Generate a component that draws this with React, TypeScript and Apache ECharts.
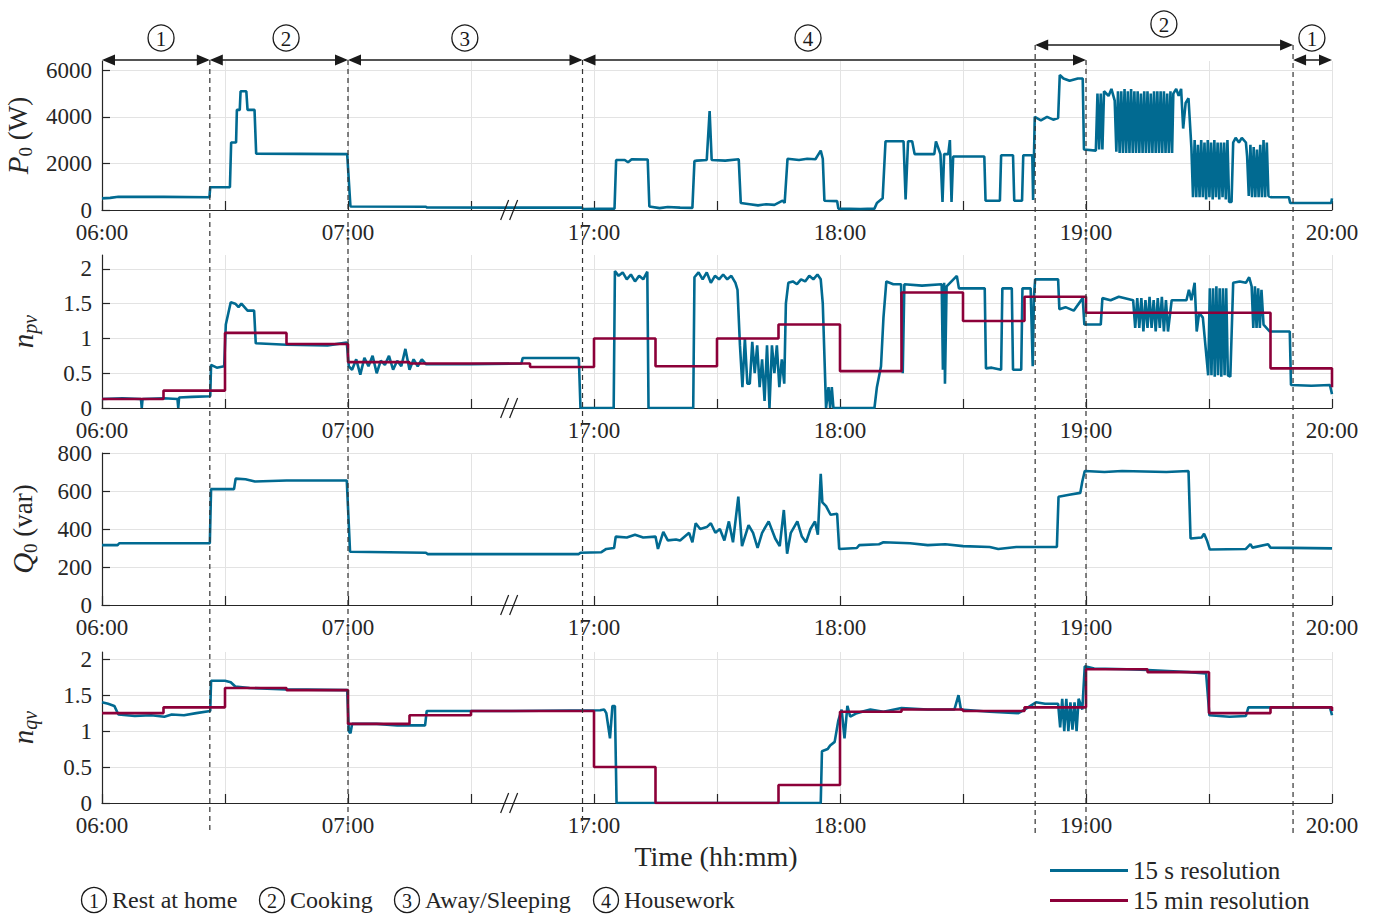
import React, { useEffect, useRef } from 'react';
import * as echarts from 'echarts';

const FONT = "'Liberation Serif', 'DejaVu Serif', serif";
const BLUE = '#016a91';
const RED = '#8c0039';
const INK = '#262626';
const GRIDC = '#e3e3e3';

// x: minutes on the broken time axis (0 = 06:00, 60 = 07:00 | 120 = 17:00, 180 = 18:00, 240 = 19:00, 300 = 20:00)
const xTickLabels = ['06:00', '07:00', '17:00', '18:00', '19:00', '20:00'];

const p0Blue: number[][] = [
  [0, 500], [2, 520], [4, 570], [15, 565], [26.2, 545], [26.4, 980], [31.2, 980], [31.5, 2900], [32.7, 2900],
  [32.9, 4300], [33.6, 4300], [33.8, 5100], [35.2, 5100], [35.5, 4300], [37.2, 4300], [37.6, 2420], [48, 2410],
  [59.8, 2400], [60.6, 150], [79, 140], [79.3, 105], [117, 100], [117.4, 40], [125, 60], [125.4, 2150],
  [127.5, 2150], [128.3, 2050], [129.2, 2180], [133.1, 2170], [133.5, 150], [136, 80], [138, 130], [141, 100],
  [144, 90], [144.5, 2100], [145.1, 2120], [147.5, 2150], [148.2, 4250], [148.7, 2150], [152, 2120], [155.3, 2180],
  [155.8, 300], [158, 250], [160, 200], [162, 250], [164, 220], [166, 400], [166.5, 300], [167.2, 2200],
  [170, 2150], [172, 2200], [174, 2180], [175.3, 2550], [175.8, 2200], [176.2, 400], [179.3, 380], [179.6, 60],
  [185, 40], [188.4, 60], [189, 300], [190.4, 500], [191.1, 2950], [195.5, 2950], [196, 450], [196.6, 2950],
  [197.6, 2950], [198.2, 2400], [203, 2400], [203.4, 2950], [204.5, 2400], [205, 350], [205.4, 2400],
  [206.4, 2400], [206.8, 3000], [207.2, 350], [207.6, 2300], [215.2, 2300], [215.5, 400], [219, 400],
  [219.3, 2350], [222.2, 2350], [222.5, 400], [224.4, 400], [224.7, 2350], [226.9, 2350], [227.1, 430],
  [227.5, 4000], [229, 3850], [230.5, 4000], [232, 3880], [233.2, 3950], [233.6, 5800], [234.5, 5650],
  [236, 5550], [238, 5650], [239.2, 5650], [239.5, 2600], [242.4, 2550], [242.8, 5000], [243.2, 2600],
  [243.6, 5000], [244, 2600], [244.4, 5100], [245.5, 4900], [246.2, 5200], [247, 4700], [247.4, 2500],
  [247.8, 5100], [248.2, 2450], [248.6, 5100], [249, 2450], [249.4, 5200], [249.8, 2450], [250.2, 5100],
  [250.6, 2450], [251, 5200], [251.4, 2450], [251.8, 5100], [252.2, 2450], [252.6, 5100], [253, 2450],
  [253.4, 5000], [253.8, 2450], [254.2, 5100], [254.6, 2450], [255, 5100], [255.4, 2450], [255.8, 5000],
  [256.2, 2450], [256.6, 5100], [257, 2450], [257.4, 5100], [257.8, 2450], [258.2, 5100], [258.6, 2450],
  [259, 5100], [259.4, 2450], [259.8, 5000], [260.2, 2450], [260.6, 5100], [261, 2450], [261.3, 5000],
  [262, 5200], [262.6, 4900], [263.2, 5200], [263.7, 3500], [264.3, 4600], [265, 4800], [265.7, 2700],
  [266.1, 550], [266.5, 3000], [266.9, 550], [267.3, 2800], [267.7, 550], [268.1, 3000], [268.5, 550],
  [268.9, 2900], [269.3, 450], [269.7, 3000], [270.1, 550], [270.5, 2900], [270.9, 450], [271.3, 3000],
  [271.7, 550], [272.1, 2900], [272.5, 450], [272.9, 2900], [273.3, 550], [273.7, 2900], [274.1, 450],
  [274.5, 3000], [274.9, 350], [275.5, 350], [275.9, 2900], [276.5, 3100], [277.3, 2900], [278, 3100],
  [279, 2900], [279.3, 2300], [279.7, 600], [280.1, 2800], [280.5, 550], [280.9, 2700], [281.3, 550],
  [281.7, 2600], [282.1, 550], [282.5, 2800], [282.9, 550], [283.3, 3000], [283.7, 550], [284.1, 2900],
  [284.5, 600], [285.2, 550], [289.5, 550], [289.8, 300], [299.8, 300], [300, 500],
];

const npvBlue: number[][] = [
  [0, 0.13], [5, 0.14], [9.5, 0.13], [9.7, 0], [9.9, 0.13], [15, 0.14], [18.4, 0.13], [18.6, 0], [18.8, 0.15],
  [22, 0.16], [26.4, 0.17], [26.6, 0.62], [28, 0.58], [29.8, 0.6], [30.2, 1.2], [31.4, 1.52], [32.5, 1.5],
  [33.3, 1.45], [34, 1.5], [35.5, 1.4], [37.1, 1.4], [37.5, 0.93], [45, 0.91], [55, 0.9], [59.7, 0.94],
  [60.2, 0.6], [61, 0.55], [62, 0.7], [63, 0.48], [64, 0.72], [65, 0.6], [66, 0.75], [67, 0.5], [68, 0.68],
  [69, 0.62], [70, 0.75], [71, 0.55], [72, 0.68], [73, 0.6], [74, 0.85], [75, 0.55], [76, 0.7], [77, 0.6],
  [78, 0.7], [79, 0.63], [90, 0.63], [102.3, 0.64], [102.6, 0.72], [116.3, 0.72], [116.7, 0], [124.8, 0],
  [125.1, 1.97], [126, 1.9], [127, 1.95], [128, 1.85], [129, 1.92], [130, 1.82], [131, 1.9], [132, 1.85],
  [133, 1.96], [133.3, 0], [144.2, 0], [144.5, 1.88], [145.5, 1.95], [146.5, 1.85], [147.5, 1.95],
  [148.5, 1.8], [149.5, 1.9], [150.5, 1.85], [151.5, 1.92], [152.5, 1.85], [153.5, 1.9], [154.5, 1.8],
  [155, 1.7], [155.6, 0.9], [156.2, 0.3], [156.8, 1.0], [157.4, 0.35], [158, 0.35], [158.6, 0.95],
  [159.2, 0.5], [159.8, 0.9], [160.4, 0.3], [161, 0.7], [161.6, 0.1], [162.2, 0.9], [162.8, 0.0],
  [163.4, 0.9], [164, 0.5], [164.6, 0.9], [165.2, 0.3], [165.8, 0.7], [166.4, 0.35], [166.8, 1.5],
  [167.4, 1.8], [168.5, 1.82], [169.5, 1.78], [170.5, 1.85], [171.5, 1.82], [172.5, 1.9], [173.5, 1.85],
  [174.5, 1.92], [175.3, 1.85], [175.8, 1.5], [176.6, 0], [177.2, 0.3], [177.6, 0], [178, 0.3], [178.4, 0],
  [188.4, 0], [189, 0.3], [190, 0.6], [190.6, 1.3], [191.3, 1.82], [193, 1.78], [194.9, 1.78], [195.3, 0.5],
  [195.7, 1.78], [200, 1.76], [204.8, 1.78], [205.1, 0.55], [205.4, 1.8], [205.6, 0.35], [206, 1.75],
  [208.5, 1.9], [209, 1.72], [215.3, 1.72], [215.6, 0.57], [217, 0.58], [219.3, 0.55], [219.6, 1.72],
  [221.9, 1.72], [222.2, 0.55], [224.2, 0.55], [224.5, 1.72], [226.5, 1.72], [227, 0.6], [227.3, 1.6],
  [227.6, 1.85], [233.2, 1.85], [233.5, 1.42], [235, 1.45], [237, 1.4], [239.2, 1.58], [239.6, 1.2],
  [243.6, 1.2], [244, 1.58], [246, 1.55], [248, 1.6], [251.5, 1.55], [252, 1.15], [252.5, 1.58], [253, 1.15],
  [253.5, 1.58], [254, 1.1], [254.5, 1.55], [255, 1.15], [255.5, 1.6], [256, 1.15], [256.5, 1.55],
  [257, 1.1], [257.5, 1.58], [258, 1.15], [258.5, 1.6], [259, 1.1], [259.5, 1.55], [260, 1.1],
  [260.9, 1.55], [264.5, 1.55], [265.1, 1.7], [265.7, 1.55], [266.5, 1.8], [267, 1.1], [267.6, 1.37],
  [268.5, 1.3], [269.8, 0.47], [270.2, 1.72], [270.6, 0.47], [271, 1.72], [271.4, 0.45], [271.8, 1.75],
  [272.2, 0.47], [272.6, 1.72], [273, 0.45], [273.4, 1.72], [273.8, 0.47], [274.2, 1.72], [274.6, 0.47],
  [275.2, 0.45], [275.9, 1.8], [277.5, 1.82], [279, 1.8], [279.8, 1.88], [280.4, 1.75], [280.8, 1.15],
  [281.2, 1.75], [281.6, 1.15], [282, 1.72], [282.4, 1.15], [282.8, 1.7], [283.3, 1.2], [284.8, 1.1],
  [289.7, 1.1], [290, 0.33], [295, 0.32], [299.5, 0.33], [300, 0.2],
];

const npvRedT = [0, 15, 30, 45, 60, 75, 104.4, 120, 135, 150, 165, 180, 195, 210, 225, 240, 285, 300];
const npvRedV = [0.13, 0.25, 1.08, 0.92, 0.66, 0.64, 0.59, 1.0, 0.6, 1.0, 1.2, 0.53, 1.66, 1.25, 1.6, 1.37, 0.57, 0.3];

const q0Blue: number[][] = [
  [0, 315], [3.8, 315], [4.2, 325], [26.3, 325], [26.6, 610], [32.2, 610], [32.6, 665], [35, 662],
  [37.3, 650], [45, 655], [59.7, 655], [60.5, 280], [70, 278], [79, 275], [79.4, 268], [116.3, 268],
  [116.7, 275], [121.8, 278], [123, 295], [124.9, 300], [125.3, 360], [128, 355], [130, 370], [132, 355],
  [135, 360], [135.6, 295], [136.9, 385], [138, 340], [140, 345], [141, 340], [143.2, 380], [144, 330],
  [144.8, 430], [145.9, 400], [147.5, 410], [148.5, 430], [149.6, 380], [150.7, 400], [151.8, 340],
  [152.9, 440], [153.9, 330], [155.2, 570], [156.1, 310], [157.7, 420], [158.8, 380], [159.9, 300],
  [161, 380], [162.6, 440], [164.2, 350], [165.3, 310], [166.3, 500], [167.1, 270], [168, 380],
  [169.6, 440], [170.7, 360], [171.7, 330], [172.8, 400], [173.9, 440], [174.6, 370], [175.3, 690],
  [175.7, 540], [176.6, 520], [177.7, 475], [179.3, 480], [179.8, 295], [184.1, 300], [184.7, 315],
  [189.5, 320], [190.6, 330], [197.1, 325], [201.4, 315], [205.7, 320], [210, 310], [216.5, 305],
  [218.6, 295], [223, 305], [227.3, 305], [232.9, 305], [233.3, 570], [235.9, 580], [238.6, 590],
  [239.1, 650], [239.7, 705], [244.5, 700], [248.8, 705], [259.6, 700], [265, 705], [265.5, 350],
  [268.2, 355], [268.8, 375], [269.5, 340], [270.2, 292], [279, 295], [280.1, 320], [280.6, 302],
  [284.4, 320], [285, 302], [300, 298],
];

const nqvBlue: number[][] = [
  [0, 1.4], [1.5, 1.38], [3, 1.35], [4, 1.23], [8, 1.21], [12, 1.22], [15.2, 1.2], [17, 1.23], [20, 1.22],
  [23, 1.25], [26.4, 1.28], [26.6, 1.7], [30, 1.7], [31.4, 1.68], [32.5, 1.62], [36, 1.6], [45, 1.58],
  [59.8, 1.57], [60.2, 1.0], [60.6, 0.97], [61, 1.1], [67, 1.1], [72, 1.08], [78.8, 1.08], [79.2, 1.28],
  [100, 1.28], [121.5, 1.29], [122.5, 1.3], [123, 1.25], [123.9, 0.9], [124.5, 1.35], [125.1, 1.35],
  [125.5, 0], [175.3, 0], [175.6, 0.72], [177, 0.75], [177.6, 0.8], [178.7, 0.85], [179.6, 1.15],
  [180.4, 1.3], [181.1, 0.9], [181.8, 1.35], [182.5, 1.2], [184.1, 1.25], [187.4, 1.3], [190.6, 1.27],
  [195, 1.32], [201.4, 1.3], [207.9, 1.3], [208.9, 1.5], [209.5, 1.3], [216.5, 1.27], [223.5, 1.25],
  [225, 1.3], [227.8, 1.4], [230, 1.38], [233.2, 1.38], [233.7, 1.05], [234.2, 1.45], [234.7, 1.0],
  [235.2, 1.45], [235.7, 1.0], [236.2, 1.4], [236.7, 1.02], [237.2, 1.4], [237.7, 1.0], [238.2, 1.45],
  [239.1, 1.3], [239.7, 1.9], [242, 1.87], [250, 1.86], [255, 1.85], [265, 1.82], [269.3, 1.8],
  [270.1, 1.22], [275, 1.2], [279, 1.21], [279.6, 1.33], [284, 1.33], [295, 1.33], [299.5, 1.33], [300, 1.22],
];

const nqvRedT = [0, 15, 30, 45, 60, 75, 90, 120, 135, 165, 180, 195, 210, 225, 240, 255, 270, 285, 300];
const nqvRedV = [1.25, 1.33, 1.6, 1.57, 1.1, 1.22, 1.28, 0.5, 0, 0.25, 1.27, 1.3, 1.28, 1.33, 1.86, 1.82, 1.25, 1.33, 1.28];

// activity phases (top arrows)
const phaseNums = ['1', '2', '3', '4', '2', '1'];
const phaseStart = [0, 26.3, 60, 117.2, 227.6, 290.5];
const phaseEnd = [26.3, 60, 117.2, 240, 290.5, 300];
const phaseLabelT = [14.4, 44.9, 88.5, 172.2, 259, 295.1];
const phaseRaised = [false, false, false, false, true, false];
const boundaryT = [26.3, 60, 117.2, 227.6, 240, 290.5];
const boundaryRaised = [false, false, false, true, false, true];
const breakT = 99.3;

const activityNames = ['Rest at home', 'Cooking', 'Away/Sleeping', 'Housework'];
const seriesNames = ['15 s resolution', '15 min resolution'];

const panels = [
  { max: 6400, interval: 2000, name: '{i|P}{s|0}{n| (W)}' },
  { max: 2.2, interval: 0.5, name: '{i|n}{si|pv}' },
  { max: 800, interval: 200, name: '{i|Q}{s|0}{n| (var)}' },
  { max: 2.1, interval: 0.5, name: '{i|n}{si|qv}' },
];
const gridBoxes = [
  { top: 61, height: 149 },
  { top: 255, height: 153 },
  { top: 453, height: 152 },
  { top: 652, height: 151 },
];

const zip = (t: number[], v: number[]) => t.map((x, i) => [x, v[i]]);

export default function App() {
  const ref = useRef<HTMLDivElement>(null);
  useEffect(() => {
    const el = ref.current!;
    const chart = echarts.init(el, null, { renderer: 'svg' });
    const rich = {
      i: { fontFamily: FONT, fontStyle: 'italic', fontSize: 29, color: INK, lineHeight: 34 },
      s: { fontFamily: FONT, fontSize: 19, color: INK, verticalAlign: 'bottom', lineHeight: 19 },
      si: { fontFamily: FONT, fontStyle: 'italic', fontSize: 20, color: INK, verticalAlign: 'bottom', lineHeight: 19 },
      n: { fontFamily: FONT, fontSize: 27, color: INK, lineHeight: 34 },
    };
    const grid = gridBoxes.map((g) => ({ left: 102, right: 41, top: g.top, height: g.height, containLabel: false, outerBoundsMode: 'none' }));
    const xAxis = gridBoxes.map((_, i) => ({
      type: 'value', gridIndex: i, min: 0, max: 300, interval: 30,
      axisLine: { show: true, onZero: false, lineStyle: { color: INK, width: 1.2 } },
      axisTick: { show: true, inside: true, length: 9, lineStyle: { color: INK, width: 1.2 } },
      splitLine: { show: true, lineStyle: { color: GRIDC, width: 1 } },
      axisLabel: {
        show: true, margin: 11, color: INK, fontFamily: FONT, fontSize: 23,
        formatter: (v: number) => (Math.abs(v % 60) < 1e-6 ? xTickLabels[Math.round(v / 60)] : ''),
      },
    }));
    const yAxis = panels.map((p, i) => ({
      type: 'value', gridIndex: i, min: 0, max: p.max, interval: p.interval,
      name: p.name, nameLocation: 'middle', nameRotate: 90, nameGap: 62,
      nameTextStyle: { rich },
      axisLine: { show: true, lineStyle: { color: INK, width: 1.2 } },
      axisTick: { show: true, inside: true, length: 8, lineStyle: { color: INK, width: 1.2 } },
      splitLine: { show: true, showMaxLine: p.max % p.interval === 0, lineStyle: { color: GRIDC, width: 1 } },
      axisLabel: {
        show: true, margin: 10, color: INK, fontFamily: FONT, fontSize: 23,
        showMaxLabel: p.max % p.interval === 0,
        formatter: (v: number) => {
          const k = v / p.interval;
          return Math.abs(k - Math.round(k)) < 1e-6 ? String(+v.toFixed(2)) : '';
        },
      },
    }));
    const blueLine = (data: number[][], i: number) => ({
      type: 'line', name: seriesNames[0], xAxisIndex: i, yAxisIndex: i, data, symbol: 'none',
      lineStyle: { color: BLUE, width: 2.6 }, itemStyle: { color: BLUE }, z: 3,
    });
    const redLine = (data: number[][], i: number) => ({
      type: 'line', name: seriesNames[1], xAxisIndex: i, yAxisIndex: i, data, symbol: 'none', step: 'end',
      lineStyle: { color: RED, width: 2.6 }, itemStyle: { color: RED }, z: 4,
    });
    const legendBase = {
      orient: 'vertical', left: 1050, itemWidth: 78, itemHeight: 3, itemGap: 0, icon: 'rect', padding: 0,
      textStyle: { fontFamily: FONT, fontSize: 25, color: INK, lineHeight: 24 },
    };
    chart.setOption({
      animation: false,
      backgroundColor: '#ffffff',
      grid, xAxis, yAxis,
      legend: [
        { ...legendBase, top: 858, data: [seriesNames[0]] },
        { ...legendBase, top: 888, data: [seriesNames[1]] },
      ],
      series: [
        blueLine(p0Blue, 0),
        blueLine(npvBlue, 1),
        redLine(zip(npvRedT, npvRedV), 1),
        blueLine(q0Blue, 2),
        blueLine(nqvBlue, 3),
        redLine(zip(nqvRedT, nqvRedV), 3),
      ],
    });

    const px = (t: number) => chart.convertToPixel({ xAxisIndex: 0 }, t) as number;
    const topY = chart.convertToPixel({ yAxisIndex: 0 }, panels[0].max) as number;
    const rowY = topY - 1;
    const raisedY = rowY - 15;
    const g: any[] = [];
    // dashed boundaries
    boundaryT.forEach((t, k) => {
      const x = px(t);
      g.push({
        type: 'line', z: 50, silent: true,
        shape: { x1: x, y1: boundaryRaised[k] ? raisedY : rowY, x2: x, y2: 833 },
        style: { stroke: '#333333', lineWidth: 1.2, lineDash: [5, 4] },
      });
    });
    // arrows + circled numbers
    const AH = 13, AW = 5.5;
    phaseNums.forEach((num, k) => {
      const x0 = px(phaseStart[k]);
      const x1 = px(phaseEnd[k]);
      const y = phaseRaised[k] ? raisedY : rowY;
      g.push({ type: 'line', z: 60, shape: { x1: x0 + 2, y1: y, x2: x1 - 2, y2: y }, style: { stroke: '#1a1a1a', lineWidth: 1.5 } });
      g.push({ type: 'polygon', z: 60, shape: { points: [[x0, y], [x0 + AH, y - AW], [x0 + AH, y + AW]] }, style: { fill: '#1a1a1a' } });
      g.push({ type: 'polygon', z: 60, shape: { points: [[x1, y], [x1 - AH, y - AW], [x1 - AH, y + AW]] }, style: { fill: '#1a1a1a' } });
      const cx = px(phaseLabelT[k]);
      const cy = phaseRaised[k] ? 24 : 38;
      g.push({ type: 'circle', z: 60, shape: { cx, cy, r: 13 }, style: { fill: 'none', stroke: '#1a1a1a', lineWidth: 1.3 } });
      g.push({ type: 'text', z: 61, x: cx, y: cy + 1, style: { text: num, fontFamily: FONT, fontSize: 21, fill: '#1a1a1a', align: 'center', verticalAlign: 'middle' } });
    });
    // axis break marks
    panels.forEach((_, i) => {
      const y = chart.convertToPixel({ yAxisIndex: i }, 0) as number;
      const x = px(breakT);
      [-4.5, 4.5].forEach((d) => {
        g.push({ type: 'line', z: 60, shape: { x1: x + d - 4, y1: y + 10, x2: x + d + 4, y2: y - 10 }, style: { stroke: '#1a1a1a', lineWidth: 1.2 } });
      });
    });
    // x title
    g.push({ type: 'text', x: 716, y: 856, style: { text: 'Time (hh:mm)', fontFamily: FONT, fontSize: 28, fill: INK, align: 'center', verticalAlign: 'middle' } });
    // activity key
    const keyX = [94, 272, 407, 606];
    activityNames.forEach((name, k) => {
      g.push({ type: 'circle', shape: { cx: keyX[k], cy: 900, r: 12.5 }, style: { fill: 'none', stroke: '#1a1a1a', lineWidth: 1.3 } });
      g.push({ type: 'text', x: keyX[k], y: 901, style: { text: String(k + 1), fontFamily: FONT, fontSize: 20, fill: '#1a1a1a', align: 'center', verticalAlign: 'middle' } });
      g.push({ type: 'text', x: keyX[k] + 18, y: 900, style: { text: name, fontFamily: FONT, fontSize: 24, fill: INK, align: 'left', verticalAlign: 'middle' } });
    });
    chart.setOption({ graphic: g });
    return () => chart.dispose();
  }, []);
  return <div ref={ref} style={{ position: 'fixed', left: 0, top: 0, width: 1373, height: 914, background: '#fff' }} />;
}
